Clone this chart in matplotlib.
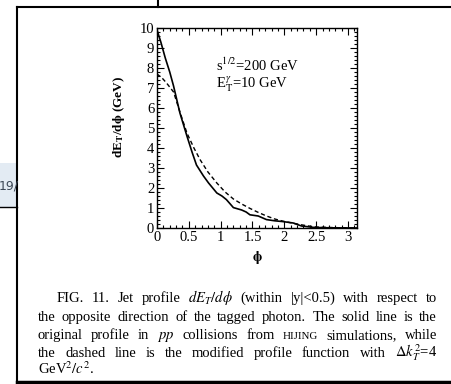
import matplotlib
matplotlib.use("Agg")
import matplotlib.pyplot as plt
from matplotlib.lines import Line2D
from matplotlib.patches import Rectangle
from matplotlib.ticker import MultipleLocator

plt.rcParams["font.family"] = ["Liberation Serif", "DejaVu Serif"]
plt.rcParams["mathtext.fontset"] = "stix"

# solid: original HIJING profile
phi_solid = [0.0, 0.06, 0.13, 0.2, 0.26, 0.36, 0.47, 0.55, 0.62, 0.68, 0.73, 0.81,
             0.94, 1.02, 1.09, 1.2, 1.33, 1.4, 1.46, 1.59, 1.72, 1.85, 1.98, 2.14,
             2.27, 2.46, 2.7, 3.14]
dedphi_solid = [9.9, 9.3, 8.5, 7.8, 7.1, 5.75, 4.6, 3.8, 3.15, 2.85, 2.6, 2.25,
                1.75, 1.6, 1.42, 1.02, 0.9, 0.8, 0.66, 0.6, 0.42, 0.36, 0.32, 0.25,
                0.1, 0.03, 0.01, 0.0]

# dashed: modified profile with dk_T^2 = 4 GeV^2/c^2
phi_dashed = [0.0, 0.08, 0.15, 0.26, 0.36, 0.47, 0.58, 0.68, 0.8, 0.94, 1.07, 1.2,
              1.33, 1.46, 1.59, 1.72, 1.85, 1.98, 2.12, 2.25, 2.38, 2.5, 2.77, 3.14]
dedphi_dashed = [7.7, 7.5, 7.25, 6.8, 5.8, 4.75, 4.0, 3.4, 2.8, 2.25, 1.8, 1.45,
                 1.2, 0.98, 0.78, 0.6, 0.45, 0.34, 0.25, 0.17, 0.1, 0.05, 0.02, 0.0]

x_ticks = [0, 0.5, 1, 1.5, 2, 2.5, 3]
x_tick_labels = ["0", "0.5", "1", "1.5", "2", "2.5", "3"]

caption_lines = [
    "FIG. 11. Jet profile $dE_T/d\\phi$ (within |y|<0.5) with respect to",
    "the opposite direction of the tagged photon. The solid line is the",
    "original profile in $pp$ collisions from HIJING simulations, while",
    "the dashed line is the modified profile function with $\\Delta{}k_T^2$=4",
    "GeV$^2/c^2$.",
]

W, H = 452, 384
fig = plt.figure(figsize=(W / 100, H / 100), dpi=100)


def fx(px):
    return px / W


def fy(py):
    return 1 - py / H


# page frame around the figure
fig.add_artist(Rectangle((0, fy(207)), fx(17), fy(163) - fy(207),
                         transform=fig.transFigure, facecolor="#e3ebf3",
                         edgecolor="none"))
fig.text(fx(-1), fy(186), "19/", fontsize=9, family="DejaVu Sans",
         color="#3c4856", va="center", ha="left")
for xs, ys, lw in [
    ([17, 452], [7, 7], 1.5),
    ([17, 17], [7, 384], 1.5),
    ([158, 158], [0, 7], 1.5),
    ([0, 17], [207, 207], 1.0),
    ([17, 452], [382, 382], 2.5),
]:
    fig.add_artist(Line2D([fx(x) for x in xs], [fy(y) for y in ys],
                          transform=fig.transFigure, color="black", lw=lw))

ax = fig.add_axes([fx(157), fy(228), fx(200), 200 / H])
ax.plot(phi_solid, dedphi_solid, color="black", lw=1.2)
ax.plot(phi_dashed, dedphi_dashed, color="black", lw=1.0, ls=(0, (3, 2)))
ax.set_xlim(0, 3.14159)
ax.set_ylim(0, 10)
ax.set_xticks(x_ticks)
ax.set_xticklabels(x_tick_labels)
ax.xaxis.set_minor_locator(MultipleLocator(0.1))
ax.yaxis.set_major_locator(MultipleLocator(1))
ax.yaxis.set_minor_locator(MultipleLocator(0.2))
ax.tick_params(which="both", direction="in", top=True, right=True, width=0.8,
               labelsize=10.5, pad=2)
ax.tick_params(which="major", length=5)
ax.tick_params(which="minor", length=2.5)
for s in ax.spines.values():
    s.set_linewidth(1.0)

ax.set_xlabel("$\\mathbf{\\phi}$", fontsize=10, labelpad=4)
ax.set_ylabel("dE$_\\mathbf{T}$/d$\\mathbf{\\phi}$ (GeV)", fontsize=9.5,
              fontweight="bold")
ax.yaxis.set_label_coords(-0.15, 0.555)
ax.text(0.92, 8.15, "s$^{1/2}$=200 GeV", fontsize=10.5, va="center")
ax.text(0.92, 7.15, "E$_\\mathrm{T}^\\gamma$=10 GeV", fontsize=10.5, va="center")

# caption, justified line by line
renderer = fig.canvas.get_renderer()
cap_size = 10.5
line_base = [302, 321, 339, 357, 374]
for i, line in enumerate(caption_lines):
    x0 = 57 if i == 0 else 38
    words = line.split(" ")
    texts = []
    for w in words:
        size = cap_size * 0.75 if w == "HIJING" else cap_size
        texts.append(fig.text(0, fy(line_base[i]), w, fontsize=size,
                              va="baseline"))
    widths = [t.get_window_extent(renderer).width for t in texts]
    if i < len(caption_lines) - 1:
        gap = (437 - x0 - sum(widths)) / (len(words) - 1)
    else:
        gap = 3.5
    x = x0
    for t, w in zip(texts, widths):
        t.set_x(fx(x))
        x += w + gap

fig.savefig("out.png", dpi=100)
